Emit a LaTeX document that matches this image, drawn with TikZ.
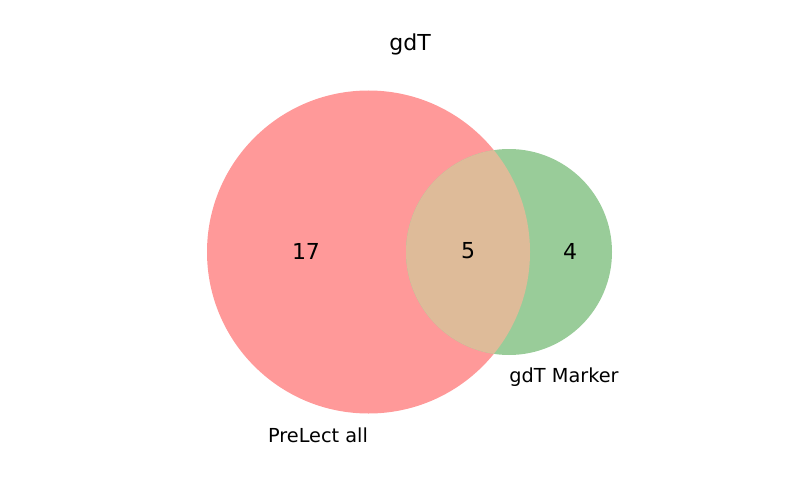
\documentclass[tikz,border=0pt]{standalone}
\usepackage{fontspec}
\setmainfont{DejaVu Sans}
\definecolor{setA}{RGB}{255,153,153}
\definecolor{setB}{RGB}{153,204,153}
\definecolor{setAB}{RGB}{222,187,153}
\begin{document}
\begin{tikzpicture}[x=1pt,y=-1pt,
  lbl/.style={inner sep=0pt,font=\fontsize{19.3}{21}\selectfont},
  num/.style={inner sep=0pt,font=\fontsize{22}{24}\selectfont},
  ttl/.style={inner sep=0pt,font=\fontsize{22}{24}\selectfont}]
\useasboundingbox (0,0) rectangle (800,500);
\fill[setA] (368.5,252) circle (161.5);
\fill[setB] (509,252) circle (103);
\begin{scope}
  \clip (368.5,252) circle (161.5);
  \fill[setAB] (509,252) circle (103);
\end{scope}
\node[ttl] (title) at (410,44) {gdT};
\node[num] (n17) at (306,251) {17};
\node[num] (n5) at (468,251) {5};
\node[num] (n4) at (570,251) {4};
\node[lbl] (la) at (318,435) {PreLect all};
\node[lbl] (lb) at (564,377) {gdT Marker};
\end{tikzpicture}
\end{document}
